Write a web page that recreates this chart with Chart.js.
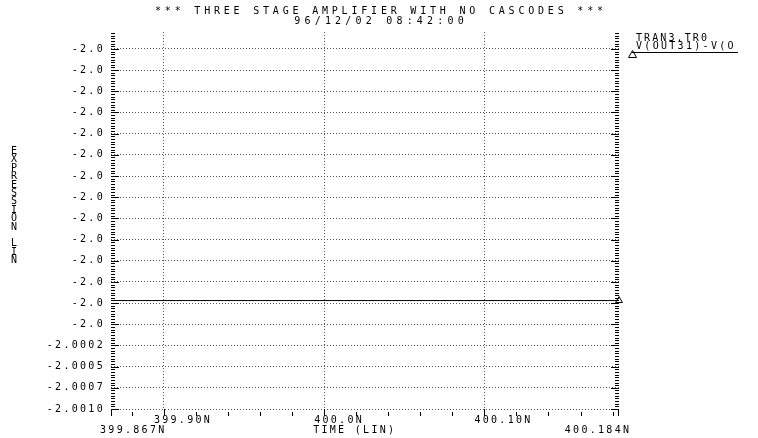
<!DOCTYPE html>
<html>
<head>
<meta charset="utf-8">
<script src="https://cdn.jsdelivr.net/npm/chart.js@4.4.1/dist/chart.umd.min.js"></script>
<style>
  html, body { margin: 0; padding: 0; background: #fff; }
  #wrap { width: 758px; height: 438px; position: relative; }
</style>
</head>
<body>
<div id="wrap"><canvas id="waveChart"></canvas></div>
<script>
var titleLines = ['*** THREE STAGE AMPLIFIER WITH NO CASCODES ***', '96/12/02 08:42:00'];
var yAxisTitle = 'EXPRESSION LIN';
var xAxisTitle = 'TIME (LIN)';
var traceFile = 'TRAN3.TR0';
var traceName = 'V(OUT31)-V(O';

// time in ns, expression value (flat trace)
var timeValues = [399.867, 400.184];
var exprValues = [-1.99972, -1.99972];

var xMin = 399.867, xMax = 400.184;
var xTickValues = [399.90, 400.0, 400.10];
var xTickLabels = ['399.90N', '400.0N', '400.10N'];
var xEndLabels = ['399.867N', '400.184N'];
var xMinorStep = 0.02;

var yMin = -2.0010, yMax = -1.99655;
var yTickValues = [-2.0010, -2.00075, -2.0005, -2.00025, -2.0, -1.99975, -1.9995, -1.99925, -1.999,
                   -1.99875, -1.9985, -1.99825, -1.998, -1.99775, -1.9975, -1.99725, -1.997, -1.99675];
var yTickLabels = ['-2.0010', '-2.0007', '-2.0005', '-2.0002', '-2.0', '-2.0', '-2.0', '-2.0', '-2.0',
                   '-2.0', '-2.0', '-2.0', '-2.0', '-2.0', '-2.0', '-2.0', '-2.0', '-2.0'];
var yMinorPerMajor = 8;

var mono = '"DejaVu Sans Mono", monospace';

function putText(ctx, str, x, y, align, spacing) {
    ctx.save();
    ctx.font = '10px ' + mono;
    ctx.fillStyle = '#000';
    ctx.letterSpacing = spacing + 'px';
    ctx.textAlign = align;
    ctx.textBaseline = 'middle';
    if (align === 'center') x += spacing / 2;
    if (align === 'right') x += spacing;
    ctx.fillText(str, x, y);
    ctx.restore();
}

var plotDecor = {
    id: 'plotDecor',
    beforeDraw: function (chart) {
        chart.ctx.letterSpacing = '2.3px';
    },
    afterDraw: function (chart) {
        var ctx = chart.ctx;
        var xs = chart.scales.x, ys = chart.scales.y;
        var area = chart.chartArea;
        ctx.letterSpacing = '0px';

        ctx.save();
        ctx.strokeStyle = '#000';
        ctx.lineWidth = 1;
        ctx.beginPath();
        // ruler ticks on left and right edges
        var step = (yTickValues[1] - yTickValues[0]) / yMinorPerMajor;
        for (var k = 0; yMin + k * step <= yMax + 1e-9; k++) {
            var py = Math.round(ys.getPixelForValue(yMin + k * step)) + 0.5;
            var len = (k % yMinorPerMajor === 0) ? 8 : 4;
            ctx.moveTo(area.left, py); ctx.lineTo(area.left + len, py);
            ctx.moveTo(area.right, py); ctx.lineTo(area.right - len, py);
        }
        // time axis ticks
        var t0 = Math.ceil(xMin / xMinorStep - 1e-6) * xMinorStep;
        for (var t = t0; t <= xMax + 1e-9; t += xMinorStep) {
            var px = Math.round(xs.getPixelForValue(t)) + 0.5;
            ctx.moveTo(px, area.bottom + 3); ctx.lineTo(px, area.bottom + 7);
        }
        xTickValues.concat([xMin, xMax]).forEach(function (v) {
            var px = Math.round(xs.getPixelForValue(v));
            if (px >= area.right) px = area.right - 1;
            ctx.moveTo(px + 0.5, area.bottom); ctx.lineTo(px + 0.5, area.bottom + 7);
        });
        ctx.stroke();

        // legend
        ctx.beginPath();
        ctx.moveTo(632, 52.5); ctx.lineTo(738, 52.5);
        ctx.moveTo(632.5, 50.5); ctx.lineTo(636.5, 57.5); ctx.lineTo(628.5, 57.5); ctx.closePath();
        ctx.stroke();
        ctx.restore();

        putText(ctx, traceFile, 636, 38, 'left', 2.1);
        putText(ctx, traceName, 636, 46, 'left', 2.3);

        // titles
        putText(ctx, titleLines[0], 379, 11.5, 'center', 3.8);
        putText(ctx, titleLines[1], 379, 21, 'center', 4.2);

        for (var i = 0; i < yAxisTitle.length; i++) {
            putText(ctx, yAxisTitle[i], 14, 151.5 + i * 8.4, 'center', 0);
        }

        putText(ctx, xEndLabels[0], area.left - 11, 430, 'left', 2.3);
        putText(ctx, xAxisTitle, xs.getPixelForValue(400.0) - 11, 430, 'left', 2.3);
        putText(ctx, xEndLabels[1], area.right + 10, 430, 'right', 2.3);
    }
};

var ctx = document.getElementById('waveChart').getContext('2d');

var waveChart = new Chart(ctx, {
    type: 'line',
    data: {
        datasets: [{
            data: timeValues.map(function (t, i) { return { x: t, y: exprValues[i] }; }),
            borderColor: '#000',
            borderWidth: 1,
            pointRadius: [0, 4],
            pointStyle: 'triangle',
            pointBackgroundColor: '#fff',
            pointBorderColor: '#000',
            pointBorderWidth: 1,
            clip: false,
            tension: 0
        }]
    },
    options: {
        responsive: true,
        maintainAspectRatio: false,
        animation: false,
        layout: { padding: { top: 32, right: 139, bottom: 0, left: 0 } },
        plugins: {
            legend: { display: false },
            tooltip: { enabled: false }
        },
        scales: {
            x: {
                type: 'linear',
                min: xMin,
                max: xMax,
                afterBuildTicks: function (scale) {
                    scale.ticks = xTickValues.map(function (v) { return { value: v }; });
                },
                afterFit: function (scale) { scale.height = 29; },
                grid: { color: '#555', drawTicks: false },
                border: { display: false, dash: [1, 2] },
                ticks: {
                    autoSkip: false,
                    maxRotation: 0,
                    align: 'start',
                    labelOffset: -10,
                    padding: 5,
                    color: '#000',
                    font: { family: mono, size: 10 },
                    callback: function (value, index) { return xTickLabels[index]; }
                }
            },
            y: {
                type: 'linear',
                min: yMin,
                max: yMax,
                afterBuildTicks: function (scale) {
                    scale.ticks = yTickValues.map(function (v) { return { value: v }; });
                },
                afterFit: function (scale) { scale.width = 111; },
                grid: { color: '#555', drawTicks: false },
                border: { display: false, dash: [1, 2] },
                ticks: {
                    autoSkip: false,
                    padding: 6,
                    color: '#000',
                    font: { family: mono, size: 10 },
                    callback: function (value, index) { return yTickLabels[index]; }
                }
            }
        }
    },
    plugins: [plotDecor]
});
</script>
</body>
</html>
